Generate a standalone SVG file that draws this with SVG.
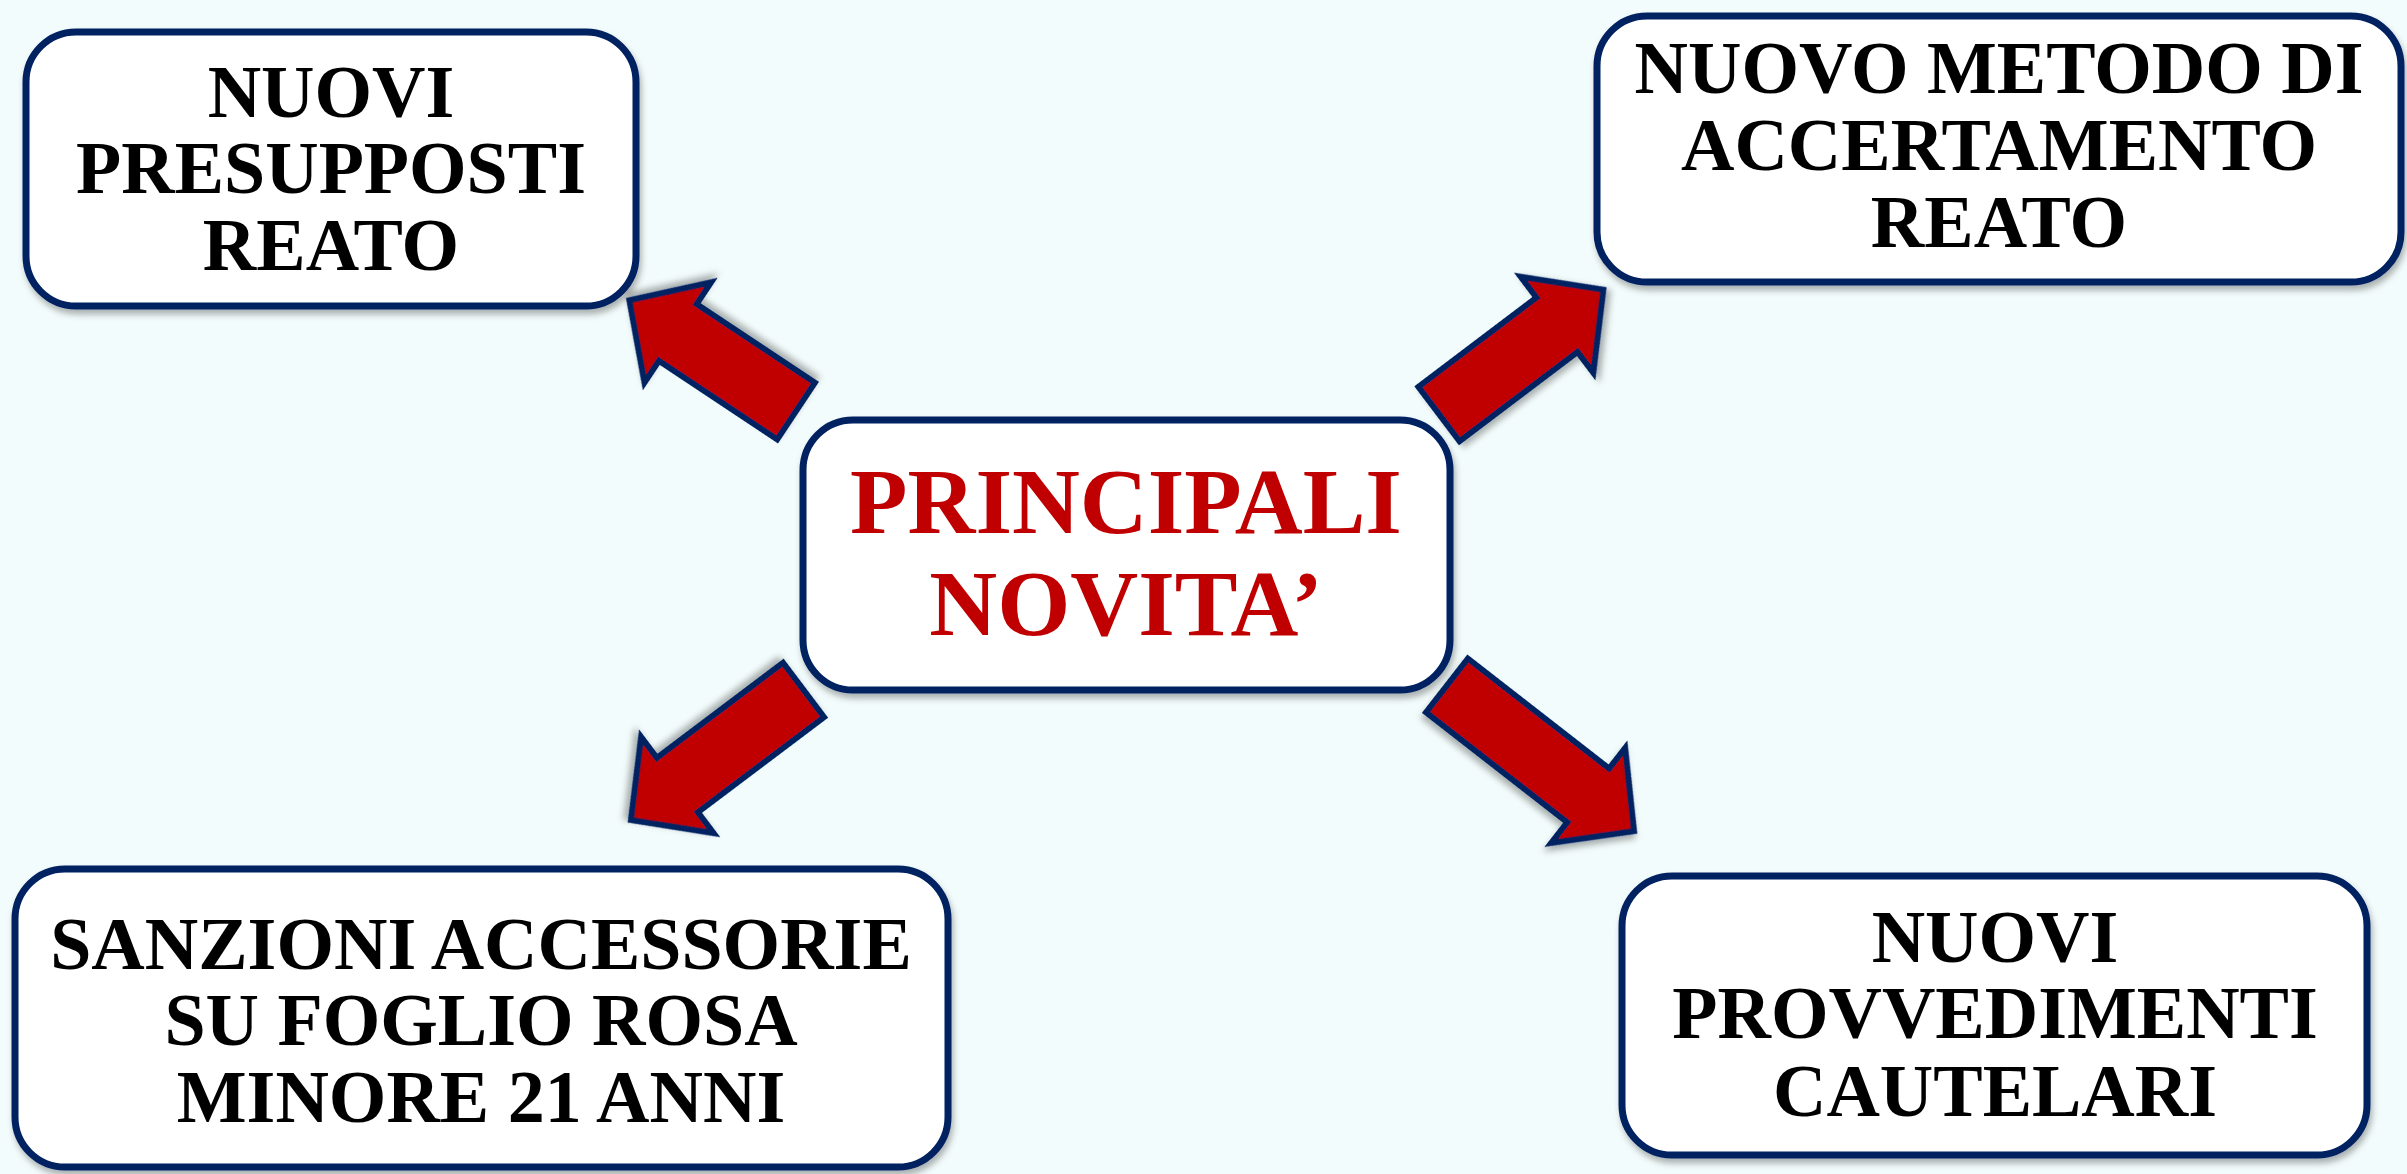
<svg xmlns="http://www.w3.org/2000/svg" width="2407" height="1174" viewBox="0 0 2407 1174">
<defs>
<filter id="sh" x="-10%" y="-10%" width="120%" height="130%">
<feDropShadow dx="2" dy="5" stdDeviation="3" flood-color="#000" flood-opacity="0.3"/>
</filter>
<style>
.box{fill:#FFFFFF;stroke:#002060;stroke-width:7;filter:url(#sh)}
.t{font-family:"Liberation Serif","Times New Roman",serif;font-weight:bold;font-size:74px;fill:#000;text-anchor:middle}
.tc{font-family:"Liberation Serif","Times New Roman",serif;font-weight:bold;font-size:94px;fill:#C00000;text-anchor:middle}
.arr{fill:#C00000;stroke:#002060;stroke-width:6;stroke-linejoin:miter;filter:url(#sh)}
</style>
</defs>
<rect width="2407" height="1174" fill="#F3FCFC"/>
<g id="connectors">
<polygon class="arr" transform="translate(796,411) rotate(213.6)" points="0,-34 142,-34 142,-60 200,0 142,60 142,34 0,34"/>
<polygon class="arr" transform="translate(1439,414) rotate(-37.1)" points="0,-34 148,-34 148,-60 206,0 148,60 148,34 0,34"/>
<polygon class="arr" transform="translate(803.5,690) rotate(143)" points="0,-34 158,-34 158,-60 216,0 158,60 158,34 0,34"/>
<polygon class="arr" transform="translate(1447,685.5) rotate(37.9)" points="0,-34 179,-34 179,-60 237,0 179,60 179,34 0,34"/>
</g>
<g id="node-presupposti">
<rect class="box" x="26" y="32" width="610" height="274" rx="50"/>
<text class="t" x="331" y="117">NUOVI</text>
<text class="t" x="331" y="193">PRESUPPOSTI</text>
<text class="t" x="331" y="270">REATO</text>
</g>
<g id="node-metodo">
<rect class="box" x="1597" y="16" width="804" height="266" rx="50"/>
<text class="t" x="1999" y="93">NUOVO METODO DI</text>
<text class="t" x="1999" y="170">ACCERTAMENTO</text>
<text class="t" x="1999" y="247">REATO</text>
</g>
<g id="node-principali">
<rect class="box" x="803" y="420" width="647" height="270" rx="50"/>
<text class="tc" x="1126" y="533">PRINCIPALI</text>
<text class="tc" x="1126" y="635">NOVITA’</text>
</g>
<g id="node-sanzioni">
<rect class="box" x="15" y="869" width="933" height="298" rx="50"/>
<text class="t" x="481" y="969">SANZIONI ACCESSORIE</text>
<text class="t" x="481" y="1045">SU FOGLIO ROSA</text>
<text class="t" x="481" y="1122">MINORE 21 ANNI</text>
</g>
<g id="node-provvedimenti">
<rect class="box" x="1622" y="876" width="745" height="279" rx="50"/>
<text class="t" x="1995" y="962">NUOVI</text>
<text class="t" x="1995" y="1038">PROVVEDIMENTI</text>
<text class="t" x="1995" y="1116">CAUTELARI</text>
</g>
</svg>
